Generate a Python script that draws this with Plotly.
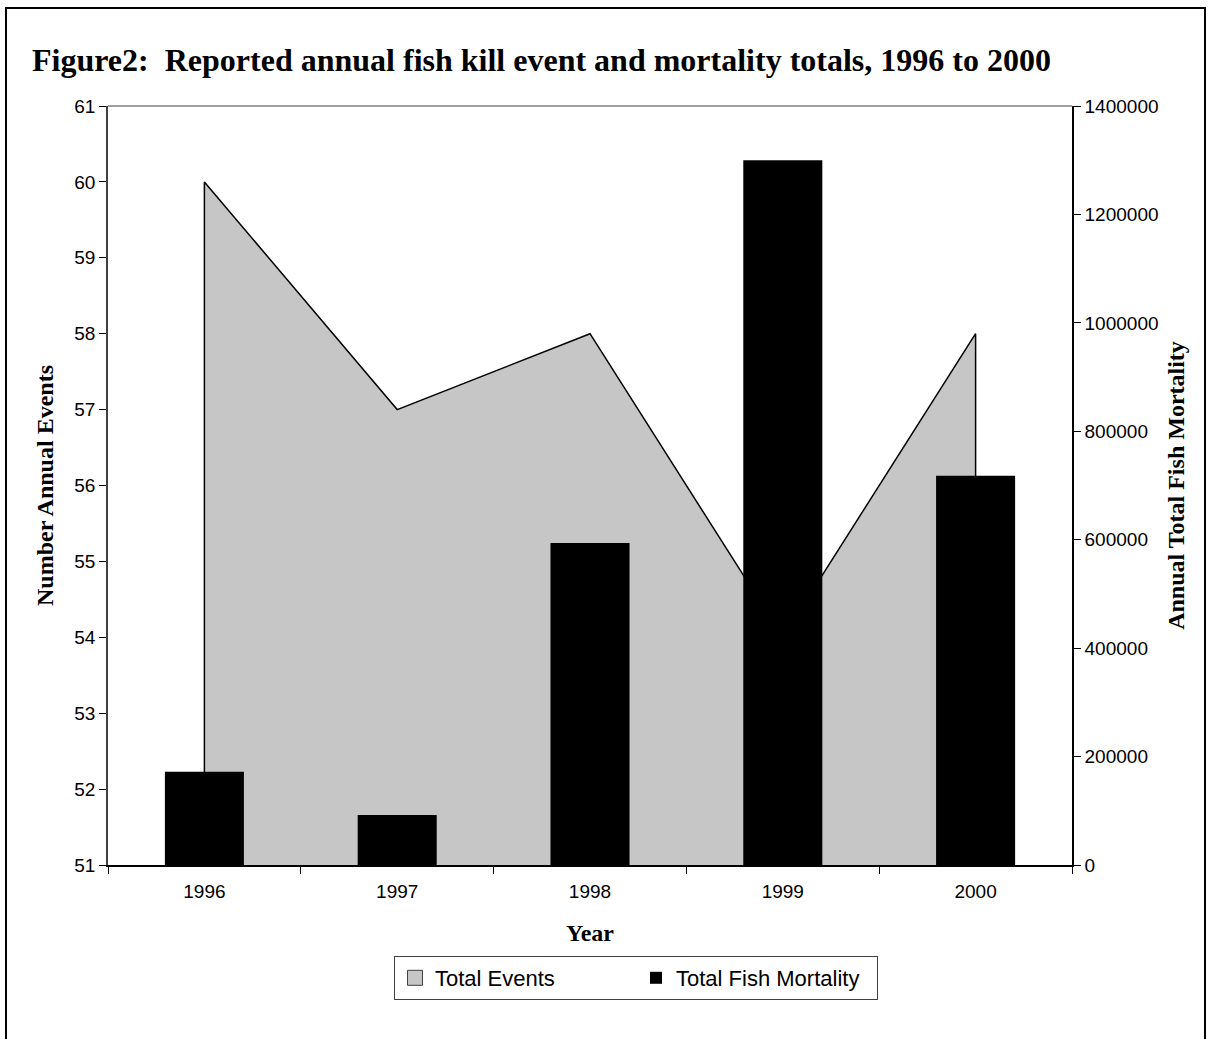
import plotly.graph_objects as go

years = ["1996", "1997", "1998", "1999", "2000"]
total_events = [60, 57, 58, 54, 58]
fish_mortality = [172000, 92000, 594000, 1300000, 718000]

events_range = [51, 61]
mortality_range = [0, 1400000]

# Area polygon closed down to the axis minimum
area_x = [years[0]] + years + [years[-1]]
area_y = [events_range[0]] + total_events + [events_range[0]]

fig = go.Figure()
fig.add_trace(go.Scatter(
    x=area_x, y=area_y, mode="lines", fill="toself",
    fillcolor="#c6c6c6", line=dict(color="black", width=1.5),
    name="Total Events", yaxis="y", showlegend=False,
))
# legend key for the area series (square swatch, no data drawn)
fig.add_trace(go.Scatter(
    x=[None], y=[None], mode="markers", name="Total Events",
    marker=dict(symbol="square", size=15, color="#c6c6c6",
                line=dict(color="#404040", width=1)),
))
fig.add_trace(go.Bar(
    x=years, y=fish_mortality, name="Total Fish Mortality",
    marker=dict(color="black", line=dict(width=0)), width=0.41, yaxis="y2",
))

tick_font = dict(family="Liberation Sans, Arial", size=19, color="black")
title_font = dict(family="Liberation Serif, Times New Roman", size=24, color="black")

fig.update_layout(
    width=1212, height=1039,
    margin=dict(l=108, r=140, t=106, b=174),
    paper_bgcolor="white", plot_bgcolor="white",
    barmode="overlay",
    title=dict(
        text="<b>Figure2:  Reported annual fish kill event and mortality totals, 1996 to 2000</b>",
        font=dict(family="Liberation Serif, Times New Roman", size=32, color="black"),
        x=32 / 1212, xanchor="left", xref="container",
        y=1 - 60 / 1039, yanchor="middle", yref="container",
    ),
    xaxis=dict(
        type="category", tickson="boundaries", ticks="outside", ticklen=7,
        tickcolor="black", showline=True, linecolor="black", linewidth=1.5,
        mirror=False, showgrid=False, tickfont=tick_font, ticklabelstandoff=8,
        title=dict(text="<b>Year</b>", font=title_font, standoff=24),
        range=[-0.5, 4.5],
    ),
    yaxis=dict(
        range=events_range, dtick=1, ticks="outside", ticklen=7, tickcolor="black",
        showline=True, linecolor="#404040", linewidth=1.5, showgrid=False,
        zeroline=False, tickfont=tick_font,
        title=dict(text="<b>Number Annual Events</b>", font=title_font, standoff=14),
    ),
    yaxis2=dict(
        range=mortality_range, dtick=200000, overlaying="y", side="right",
        ticks="outside", ticklen=7, tickcolor="black", showline=True,
        linecolor="black", linewidth=1.5, showgrid=False, zeroline=False,
        tickfont=tick_font, tickformat="d",
        title=dict(text="<b>Annual Total Fish Mortality</b>", font=title_font, standoff=10),
    ),
    legend=dict(
        orientation="h", x=(636 - 108) / 964, xanchor="center",
        y=(865 - 956) / 759, yanchor="top",
        bordercolor="#404040", borderwidth=1, bgcolor="white",
        font=dict(family="Liberation Sans, Arial", size=22, color="black"),
        traceorder="normal", itemwidth=30, entrywidth=196,
    ),
    shapes=[
        # top border of plot area
        dict(type="line", xref="paper", yref="paper", x0=0, x1=1, y0=1, y1=1,
             line=dict(color="#808080", width=1.5)),
        # outer frame
        dict(type="rect", xref="paper", yref="paper",
             x0=(6 - 108) / 964, x1=(1205 - 108) / 964,
             y0=(865 - 1100) / 759, y1=(865 - 8) / 759,
             line=dict(color="black", width=2), fillcolor="rgba(0,0,0,0)", layer="below"),
    ],
)

fig.write_html("out.html", config={"displayModeBar": False},
               post_script="document.body.style.margin='0';")
